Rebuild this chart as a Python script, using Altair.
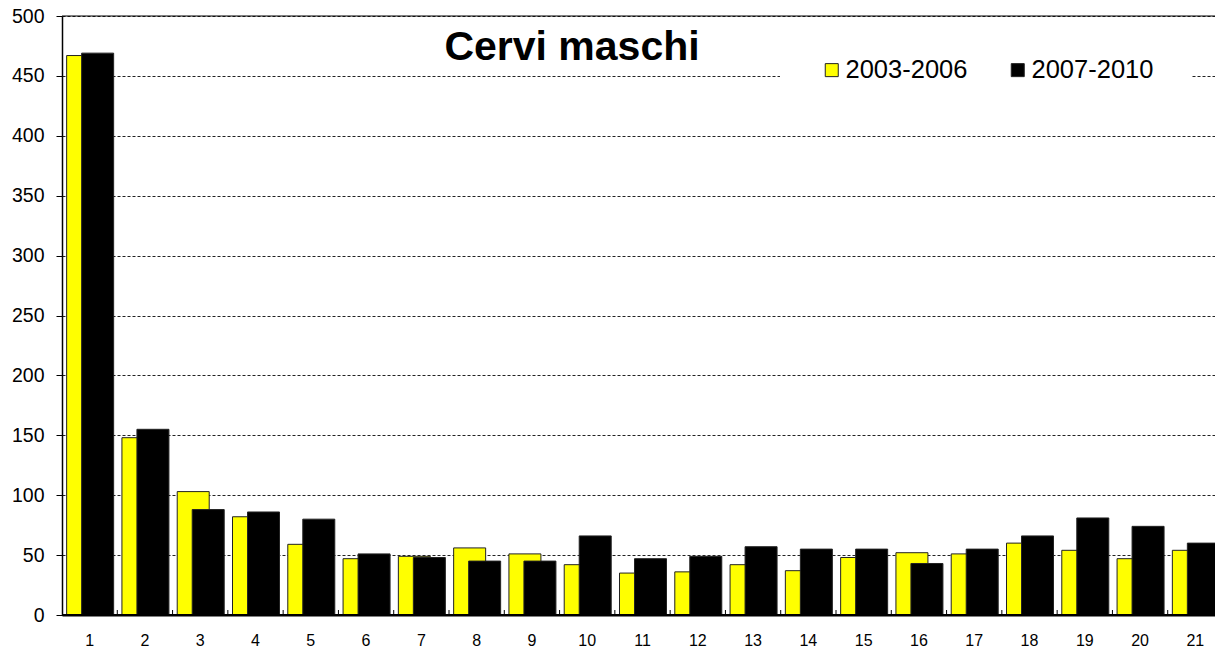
import altair as alt
import pandas as pd

categories = [str(i) for i in range(1, 22)]
series_names = ["2003-2006", "2007-2010"]
values_2003_2006 = [467, 148, 103, 82, 59, 47, 49, 56, 51, 42, 35, 36, 42, 37, 48, 52, 51, 60, 54, 47, 54]
values_2007_2010 = [469, 155, 88, 86, 80, 51, 48, 45, 45, 66, 47, 49, 57, 55, 55, 43, 55, 66, 81, 74, 60]
y_ticks = [0, 50, 100, 150, 200, 250, 300, 350, 400, 450, 500]
title_text = "Cervi maschi"

rows = []
for c, a, b in zip(categories, values_2003_2006, values_2007_2010):
    rows.append({"cat": c, "serie": series_names[0], "val": a})
    rows.append({"cat": c, "serie": series_names[1], "val": b})
df = pd.DataFrame(rows)

FONT = "Liberation Sans"
W, H = 1161, 599

xscale = alt.Scale(type="band", domain=categories, paddingInner=0, paddingOuter=0)
yscale = alt.Scale(domain=[0, 500], nice=False, zero=True)

xaxis = alt.Axis(title=None, labelAngle=0, labelFont=FONT, labelFontSize=16, labelColor="black",
                 ticks=False, tickSize=0, labelPadding=17, domainColor="black", domainWidth=2,
                 grid=False)
yaxis = alt.Axis(title=None, values=y_ticks, labelFont=FONT, labelFontSize=19.5, labelColor="black",
                 tickColor="black", tickSize=6, tickWidth=1, labelPadding=12,
                 domainColor="black", domainWidth=1.5,
                 grid=True, gridColor="#222", gridDash=[3, 2], gridWidth=1)

color = alt.Color(
    "serie:N",
    scale=alt.Scale(domain=series_names, range=["#FFFF00", "#000000"]),
    legend=alt.Legend(orient="none", legendX=757, legendY=41, direction="horizontal",
                      title=None, labelFont=FONT, labelFontSize=25.5, labelColor="black",
                      symbolType="square", symbolSize=169, symbolStrokeWidth=1,
                      symbolStrokeColor="#222", labelOffset=1, columnPadding=37, padding=0),
)

x_enc = alt.X("cat:O", sort=categories, scale=xscale, axis=xaxis)
y_enc = alt.Y("val:Q", scale=yscale, axis=yaxis)

base = alt.Chart(df)

bars_a = base.transform_filter(alt.datum.serie == series_names[0]).mark_bar(
    width=32, xOffset=-7, stroke="#222", strokeWidth=1
).encode(x=x_enc, y=y_enc, color=color)

bars_b = base.transform_filter(alt.datum.serie == series_names[1]).mark_bar(
    width=32, xOffset=8, stroke="#222", strokeWidth=1
).encode(x=x_enc, y=y_enc, color=color)

ticks = base.transform_filter(alt.datum.serie == series_names[0]).mark_rule(
    color="black", strokeWidth=1
).encode(
    x=alt.X("cat:O", sort=categories, scale=xscale, axis=xaxis, bandPosition=1),
    y=alt.value(H - 5), y2=alt.value(H),
)

one = pd.DataFrame({"k": [0]})

legend_bg = alt.Chart(one).mark_rect(color="white").encode(
    x=alt.value(718), x2=alt.value(1130), y=alt.value(40), y2=alt.value(75)
)

title = alt.Chart(pd.DataFrame({"t": [title_text]})).mark_text(
    font=FONT, fontSize=41, fontWeight="bold", color="black", align="center", baseline="alphabetic"
).encode(text="t:N", x=alt.value(510), y=alt.value(43.5))

top_line = alt.Chart(one).mark_rule(color="black", strokeWidth=1).encode(y=alt.datum(500))
bottom_line = alt.Chart(one).mark_rule(color="black", strokeWidth=2).encode(y=alt.datum(0))

chart = alt.layer(bars_a, bars_b, ticks, legend_bg, title, top_line, bottom_line).properties(
    width=W, height=H,
    padding={"left": 54, "top": 8, "right": -8, "bottom": 32},
    autosize=alt.AutoSizeParams(type="none"),
    background="white",
).configure_view(stroke=None)

chart.save("out.html", embed_options={"renderer": "svg", "actions": False})
